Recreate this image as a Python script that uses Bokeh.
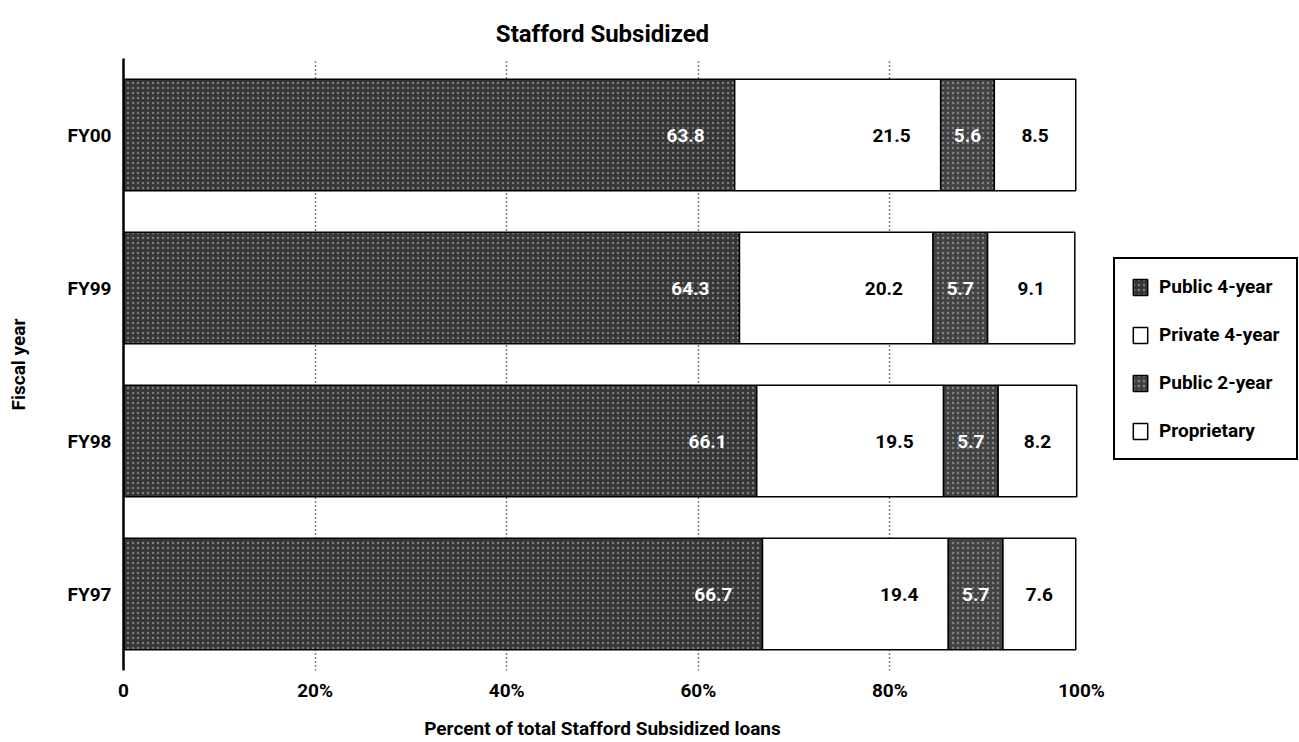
from bokeh.plotting import figure
from bokeh.models import (ColumnDataSource, Legend, LegendItem, FactorRange,
                          FixedTicker, Range1d)
from bokeh.core.properties import value
from bokeh.embed import file_html
from bokeh.resources import INLINE

# ---- data ----
years = ["FY00", "FY99", "FY98", "FY97"]
public4 = [63.8, 64.3, 66.1, 66.7]
private4 = [21.5, 20.2, 19.5, 19.4]
public2 = [5.6, 5.7, 5.7, 5.7]
proprietary = [8.5, 9.1, 8.2, 7.6]
series_names = ["Public 4-year", "Private 4-year", "Public 2-year", "Proprietary"]
x_ticks = [0, 20, 40, 60, 80, 100]
x_tick_labels = ["0", "20%", "40%", "60%", "80%", "100%"]

FONT = "Roboto"

keys = ["public4", "private4", "public2", "proprietary"]
data = dict(years=years, public4=public4, private4=private4,
            public2=public2, proprietary=proprietary)
src = ColumnDataSource(data)

p = figure(frame_width=958, frame_height=612,
           y_range=FactorRange(factors=years[::-1]),
           x_range=Range1d(0, 100),
           output_backend="svg", toolbar_location=None,
           min_border_left=123, min_border_right=218,
           min_border_top=58, min_border_bottom=70)

fills = ["#363636", "white", "#424242", "white"]
hatch = ["dot", None, "dot", None]
renderers = p.hbar_stack(keys, y="years", height=0.73, source=src,
                         fill_color=fills, line_color="black", line_width=1.5)
for r, h in zip(renderers, hatch):
    if h:
        r.glyph.hatch_pattern = h
        r.glyph.hatch_color = "white"
        r.glyph.hatch_alpha = 0.35
        r.glyph.hatch_scale = 5

# value labels
lab_x, lab_y, lab_t, lab_align, lab_col, lab_off = [], [], [], [], [], []
for i, y in enumerate(years):
    vals = [public4[i], private4[i], public2[i], proprietary[i]]
    cum = 0
    for j, v in enumerate(vals):
        start = cum
        cum += v
        if j < 2:
            lab_x.append(cum); lab_align.append("right"); lab_off.append(-30)
        else:
            lab_x.append((start + cum) / 2); lab_align.append("center"); lab_off.append(0)
        lab_y.append(y)
        lab_t.append(f"{v:.1f}")
        lab_col.append("white" if j in (0, 2) else "black")
lsrc = ColumnDataSource(dict(x=lab_x, y=lab_y, t=lab_t, a=lab_align, c=lab_col, o=lab_off))
p.text(x="x", y="y", text="t", source=lsrc, text_align="a", text_color="c",
       x_offset="o", text_baseline="middle", text_font=value(FONT),
       text_font_style="bold", text_font_size="19px")

# title
p.title.text = "Stafford Subsidized"
p.title.align = "center"
p.title.text_font = FONT
p.title.text_font_size = "24px"
p.title.text_font_style = "bold"
p.title.text_color = "black"
p.title.standoff = 21

# axes
p.xaxis.ticker = FixedTicker(ticks=x_ticks)
p.xaxis.major_label_overrides = {t: l for t, l in zip(x_ticks, x_tick_labels)}
p.xaxis.axis_line_color = None
p.xaxis.major_tick_line_color = None
p.xaxis.minor_tick_line_color = None
p.xaxis.major_label_standoff = 2
p.xaxis.major_label_text_font = FONT
p.xaxis.major_label_text_font_style = "bold"
p.xaxis.major_label_text_font_size = "19px"
p.xaxis.major_label_text_color = "black"
p.xaxis.axis_label = "Percent of total Stafford Subsidized loans"
p.xaxis.axis_label_text_font = FONT
p.xaxis.axis_label_text_font_style = "bold"
p.xaxis.axis_label_text_font_size = "19px"
p.xaxis.axis_label_text_color = "black"
p.xaxis.axis_label_standoff = 12

p.yaxis.axis_line_color = "black"
p.yaxis.axis_line_width = 2.5
p.yaxis.major_tick_line_color = None
p.yaxis.minor_tick_line_color = None
p.yaxis.major_label_standoff = 6
p.yaxis.major_label_text_font = FONT
p.yaxis.major_label_text_font_style = "bold"
p.yaxis.major_label_text_font_size = "19px"
p.yaxis.major_label_text_color = "black"
p.yaxis.axis_label = "Fiscal year"
p.yaxis.axis_label_text_font = FONT
p.yaxis.axis_label_text_font_style = "bold"
p.yaxis.axis_label_text_font_size = "19px"
p.yaxis.axis_label_text_color = "black"
p.yaxis.axis_label_standoff = 35

# grid
p.ygrid.grid_line_color = None
p.xgrid.ticker = FixedTicker(ticks=[20, 40, 60, 80, 100])
p.xgrid.grid_line_color = "black"
p.xgrid.grid_line_dash = "1 3"
p.xgrid.grid_line_width = 1.5
p.outline_line_color = None

# legend
items = [LegendItem(label=n, renderers=[r]) for n, r in zip(series_names, renderers)]
legend = Legend(items=items, location=(32, 210), orientation="vertical",
                label_text_font=FONT, label_text_font_style="bold",
                label_text_font_size="19px", label_text_color="black",
                glyph_width=18, glyph_height=20, label_height=20,
                label_standoff=10, spacing=25, padding=16, margin=0,
                border_line_color="black", border_line_width=2,
                border_line_alpha=1.0,
                background_fill_color="white")
p.add_layout(legend, "right")

open("out.html", "w").write(file_html(p, INLINE))
